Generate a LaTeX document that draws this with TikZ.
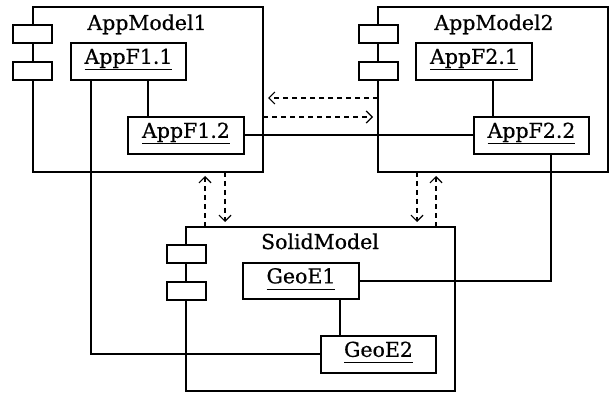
\documentclass[tikz,border=0pt]{standalone}
\usepackage{fontspec}
\setmainfont{DejaVu Serif}
\newfontfamily\lblfont{DejaVu Serif}[FakeBold=0.6]
\usetikzlibrary{arrows.meta,calc}
\newcommand{\ul}[1]{\underline{\smash{#1}\vphantom{p}}}
\begin{document}
\begin{tikzpicture}[x=1pt,y=-1pt,
  every node/.style={font=\lblfont\fontsize{20.5}{24}\selectfont},
  comp/.style={draw,line width=1.2pt,inner sep=0pt,outer sep=0pt,anchor=north west},
  tab/.style={draw,fill=white,line width=1.2pt,inner sep=0pt,outer sep=0pt,minimum width=39pt,minimum height=18pt,anchor=north west},
  inbox/.style={draw,fill=white,line width=1.2pt,inner sep=0pt,outer sep=0pt,minimum width=115pt,minimum height=37pt,anchor=north west},
  title/.style={inner sep=0pt,anchor=base},
  link/.style={line width=1.2pt},
  dep/.style={line width=1.2pt,dash pattern=on 5pt off 4pt,-{Straight Barb[length=6pt,width=12pt,line width=1.2pt]}}
]
\useasboundingbox (0,0) rectangle (611,393);
% components
\node[comp,minimum width=230pt,minimum height=165pt] (am1) at (33,7) {};
\node[comp,minimum width=230pt,minimum height=165pt] (am2) at (378,7) {};
\node[comp,minimum width=269pt,minimum height=164pt] (sm) at (186,227) {};
% tabs
\node[tab] (t1a) at (13,25) {};
\node[tab] (t1b) at (13,62) {};
\node[tab] (t2a) at (359,25) {};
\node[tab] (t2b) at (359,62) {};
\node[tab] (t3a) at (167,245) {};
\node[tab] (t3b) at (167,282) {};
% titles
\node[title] (l1) at (147,30) {AppModel1};
\node[title] (l2) at (494,30) {AppModel2};
\node[title] (l3) at (320,249) {SolidModel};
% connectors (under inner boxes)
\coordinate (c1) at (91,80);
\draw[link] (c1) |- (321,354) coordinate (c1e);
\coordinate (c2) at (551,153);
\draw[link] (c2) |- (359,281);
\draw[link] (148,80) -- (148,117);
\draw[link] (493,80) -- (493,117);
\draw[link] (340,299) -- (340,336);
\draw[link] (244,135) -- (474,135);
% inner boxes
\node[inbox] (f11) at (71,43) {\ul{AppF1.1}};
\node[inbox,minimum width=116pt] (f12) at (128,117) {\ul{AppF1.2}};
\node[inbox,minimum width=116pt] (f21) at (416,43) {\ul{AppF2.1}};
\node[inbox] (f22) at (474,117) {\ul{AppF2.2}};
\node[inbox,minimum width=116pt,minimum height=36pt] (e1) at (243,263) {\ul{GeoE1}};
\node[inbox] (e2) at (321,336) {\ul{GeoE2}};
% dependencies
\draw[dep] (am2.west |- 0,98) -- (268,98);
\draw[dep] (am1.east |- 0,117) -- (373,117);
\draw[dep] (205,227) -- (205,176);
\draw[dep] (225,172) -- (225,222);
\draw[dep] (417,172) -- (417,222);
\draw[dep] (436,227) -- (436,176);
\end{tikzpicture}
\end{document}
